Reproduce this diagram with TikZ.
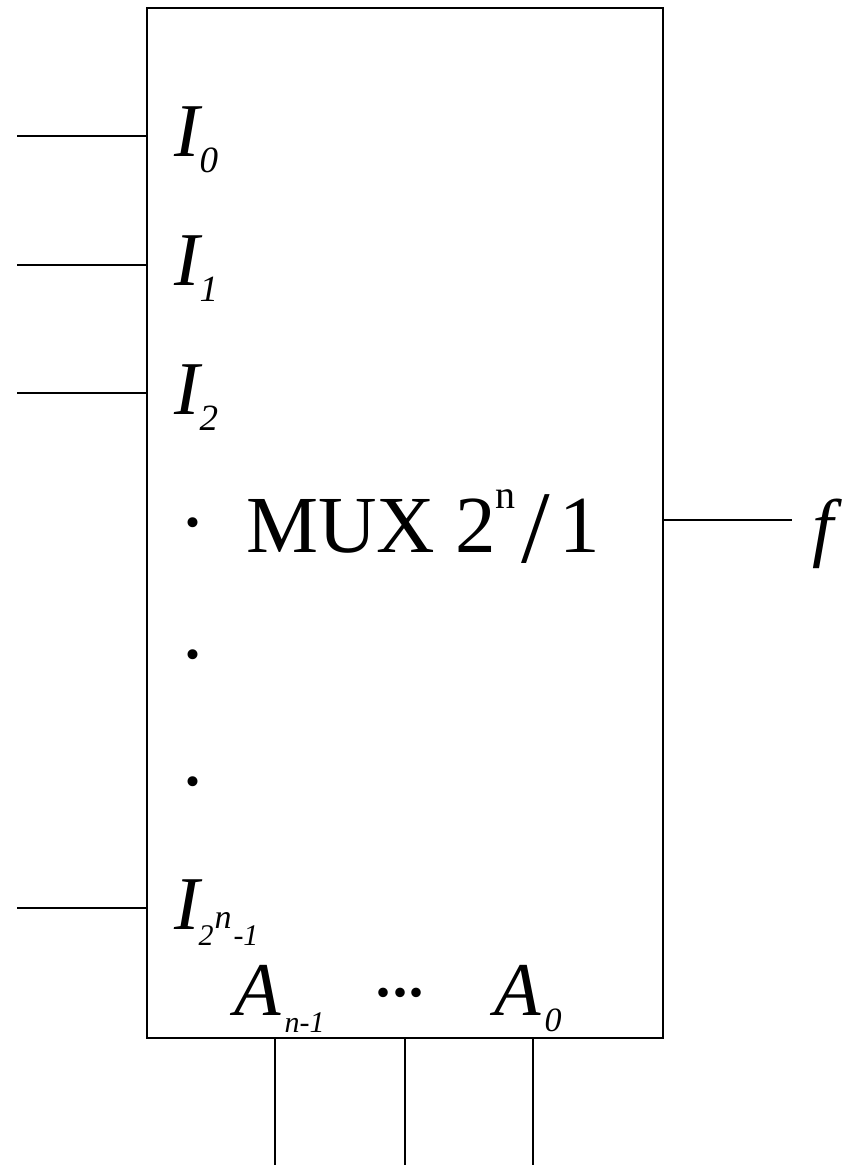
\documentclass[tikz,border=0pt]{standalone}
\usepackage{fontspec}
\setmainfont{Liberation Serif}
\newcommand{\bigfs}{\fontsize{76}{76}\selectfont}
\newcommand{\mysubA}[1]{\raisebox{-16pt}{\fontsize{37}{37}\selectfont\itshape #1}}
\newcommand{\mysubB}[3]{\raisebox{#1}{\fontsize{#2}{#2}\selectfont\itshape #3}}
\begin{document}
\begin{tikzpicture}[x=1pt,y=-1pt,
  txt/.style={inner sep=0pt, anchor=base west},
  wire/.style={line width=1.8pt},
  dotn/.style={inner sep=0pt, font=\fontsize{84}{84}\selectfont}]
\useasboundingbox (0,0) rectangle (859,1165);
\node[draw, line width=2pt, minimum width=516pt, minimum height=1030pt, inner sep=0pt, anchor=north west] (box) at (146,7) {};
% input wires
\coordinate (w0) at (17,136);
\coordinate (w1) at (17,265);
\coordinate (w2) at (17,393);
\coordinate (wn) at (17,908);
\foreach \w in {w0,w1,w2,wn} \draw[wire] (\w) -- (box.west |- \w);
% output
\coordinate (out) at (792,520);
\draw[wire] (box.east |- out) -- (out);
% select wires
\coordinate (s1) at (275,1165);
\coordinate (s2) at (405,1165);
\coordinate (s3) at (533,1165);
\foreach \s in {s1,s2,s3} \draw[wire, line width=1.5pt] (box.south -| \s) -- (\s);
% labels
\node[txt] (i0) at (174,156) {\bigfs\itshape I\mysubA{0}};
\node[txt] (i1) at (174,285) {\bigfs\itshape I\mysubA{1}};
\node[txt] (i2) at (174,414) {\bigfs\itshape I\mysubA{2}};
\node[txt] (in) at (174,929) {\bigfs\itshape I\hspace{-1pt}\mysubB{-16pt}{30}{2}\hspace{1pt}\mysubB{1pt}{34}{n}\hspace{2pt}\mysubB{-16pt}{30}{-1}};
\node[dotn] (d1) at (193,523) {.};
\node[dotn] (d2) at (193,655) {.};
\node[dotn] (d3) at (193,782) {.};
\node[txt] (mux) at (246,552) {\fontsize{81}{81}\selectfont MUX 2\raisebox{44pt}{\fontsize{40}{40}\selectfont n}\hspace{6pt}\raisebox{-10pt}{\fontsize{103}{103}\selectfont /}\hspace{9pt}1};
\node[txt] (f) at (812,552) {\bigfs\itshape f};
\node[txt] (an) at (234,1015) {\bigfs\itshape A\hspace{4pt}\mysubB{-17pt}{30}{n-1}};
\node[inner sep=0pt] (dots) at (400,993) {\fontsize{80}{80}\selectfont .\kern-3.5pt.\kern-3.5pt.};
\node[txt] (a0) at (494,1015) {\bigfs\itshape A\hspace{4pt}\mysubB{-16pt}{34}{0}};
\end{tikzpicture}
\end{document}
